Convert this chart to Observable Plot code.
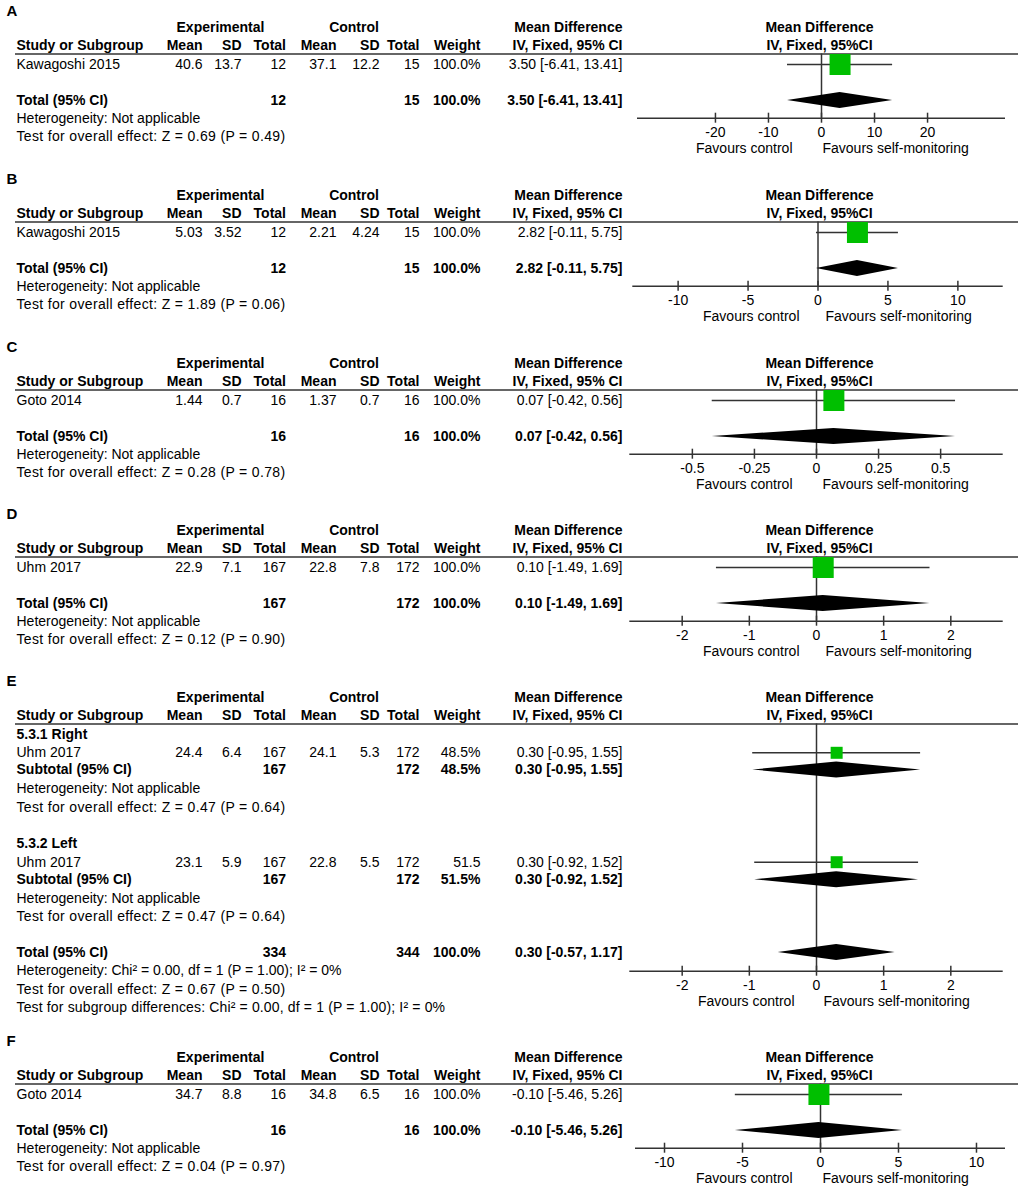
<!DOCTYPE html>
<html><head><meta charset="utf-8">
<script src="https://cdn.jsdelivr.net/npm/d3@7"></script>
<script src="https://cdn.jsdelivr.net/npm/@observablehq/plot@0.6"></script>
<style>
body{margin:0;background:#fff;}
#chart{width:1021px;}
#chart svg{display:block;}
</style></head><body><div id="chart"></div>
<script>
// ---------------- data ----------------
const panelLetters = ["A","B","C","D","E","F"];
const tickValues = [
  [-20,-10,0,10,20],
  [-10,-5,0,5,10],
  [-0.5,-0.25,0,0.25,0.5],
  [-2,-1,0,1,2],
  [-2,-1,0,1,2],
  [-10,-5,0,5,10]
];
const axisLimits = [34.7, 13.24, 0.752, 2.78, 2.78, 11.86];

const studyPanel  = ["A","B","C","D","E","E","F"];
const studyName   = ["Kawagoshi 2015","Kawagoshi 2015","Goto 2014","Uhm 2017","Uhm 2017","Uhm 2017","Goto 2014"];
const expMean     = ["40.6","5.03","1.44","22.9","24.4","23.1","34.7"];
const expSD       = ["13.7","3.52","0.7","7.1","6.4","5.9","8.8"];
const expTotal    = ["12","12","16","167","167","167","16"];
const ctlMean     = ["37.1","2.21","1.37","22.8","24.1","22.8","34.8"];
const ctlSD       = ["12.2","4.24","0.7","7.8","5.3","5.5","6.5"];
const ctlTotal    = ["15","15","16","172","172","172","16"];
const studyWeight = ["100.0%","100.0%","100.0%","100.0%","48.5%","51.5","100.0%"];
const studyMD     = [3.50, 2.82, 0.07, 0.10, 0.30, 0.30, -0.10];
const studyLo     = [-6.41, -0.11, -0.42, -1.49, -0.95, -0.92, -5.46];
const studyHi     = [13.41, 5.75, 0.56, 1.69, 1.55, 1.52, 5.26];

const pooledPanel    = ["A","B","C","D","E","E","E","F"];
const pooledLabel    = ["Total (95% CI)","Total (95% CI)","Total (95% CI)","Total (95% CI)","Subtotal (95% CI)","Subtotal (95% CI)","Total (95% CI)","Total (95% CI)"];
const pooledExpTotal = ["12","12","16","167","167","167","334","16"];
const pooledCtlTotal = ["15","15","16","172","172","172","344","16"];
const pooledWeight   = ["100.0%","100.0%","100.0%","100.0%","48.5%","51.5%","100.0%","100.0%"];
const pooledMD       = [3.50, 2.82, 0.07, 0.10, 0.30, 0.30, 0.30, -0.10];
const pooledLo       = [-6.41, -0.11, -0.42, -1.49, -0.95, -0.92, -0.57, -5.46];
const pooledHi       = [13.41, 5.75, 0.56, 1.69, 1.55, 1.52, 1.17, 5.26];
const pooledHet = [
  "Heterogeneity: Not applicable","Heterogeneity: Not applicable","Heterogeneity: Not applicable",
  "Heterogeneity: Not applicable","Heterogeneity: Not applicable","Heterogeneity: Not applicable",
  "Heterogeneity: Chi² = 0.00, df = 1 (P = 1.00); I² = 0%","Heterogeneity: Not applicable"
];
const pooledTest = [
  "Test for overall effect: Z = 0.69 (P = 0.49)","Test for overall effect: Z = 1.89 (P = 0.06)",
  "Test for overall effect: Z = 0.28 (P = 0.78)","Test for overall effect: Z = 0.12 (P = 0.90)",
  "Test for overall effect: Z = 0.47 (P = 0.64)","Test for overall effect: Z = 0.47 (P = 0.64)",
  "Test for overall effect: Z = 0.67 (P = 0.50)","Test for overall effect: Z = 0.04 (P = 0.97)"
];
const subgroupPanel = ["E","E"];
const subgroupLabel = ["5.3.1 Right","5.3.2 Left"];
const subgroupDiffPanel = ["E"];
const subgroupDiffText  = ["Test for subgroup differences: Chi² = 0.00, df = 1 (P = 1.00); I² = 0%"];
const headerGroups  = ["Experimental","Control"];
const headerColumns = ["Study or Subgroup","Mean","SD","Total","Mean","SD","Total","Weight"];
const effectTitle   = ["Mean Difference","IV, Fixed, 95% CI"];
const forestTitle   = ["Mean Difference","IV, Fixed, 95%CI"];
const favourLabels  = ["Favours control","Favours self-monitoring"];

// ---------------- layout (pixels) ----------------
const W = 1021, ML = 15, MR = 3;
const INK = "#333";
const GREEN = "#00BF00";
const FONT = "'Liberation Sans', Arial, Helvetica, sans-serif";
const col = {letter:6, study:16, expMean:202, expSD:241, expN:285.5, ctlMean:336, ctlSD:379, ctlN:419,
             weight:480, ci:622, exp:220, ctl:353.5, forest:819};
const SIMPLE = {letter:11, h1:27.5, h2:45, line:53.5, study:[64], subgroup:[], pooled:[100], het:[118],
                test:[136.5], extra:[], axis:117.7, tickLab:131.7, fav:148, box:21, half:8};
const layout = {
  A: {...SIMPLE, h:168, favC:792, favS:822},
  B: {...SIMPLE, h:168, favC:799, favS:825},
  C: {...SIMPLE, h:167, favC:792, favS:822},
  D: {...SIMPLE, h:167, favC:799, favS:825},
  E: {h:360, letter:11, h1:27.5, h2:45, line:53.5, subgroup:[64,173], study:[82.3,191.7],
      pooled:[99.5,209.3,282], het:[118.5,228,300.5], test:[136.7,246.5,319], extra:[337.5],
      axis:300.7, tickLab:315, fav:331.5, box:12, half:8, favC:794, favS:823},
  F: {...SIMPLE, h:160, favC:792, favS:822}
};
const axisPx = {A:[637,1005], B:[632.3,1002.7], C:[629.3,1002.7], D:[629.3,1002.7], E:[629.3,1002.7], F:[635,1005]};

const ciText = (m, lo, hi) => `${m.toFixed(2)} [${lo.toFixed(2)}, ${hi.toFixed(2)}]`;

function panelPlot(pi) {
  const P = panelLetters[pi];
  const L = layout[P];
  const lim = axisLimits[pi];
  const items = [];
  const add = (y, px, anchor, text, bold = false, size = 14) => items.push({y, px, anchor, text, bold, size});

  add(L.letter, col.letter, "start", P, true, 15);
  add(L.h1, col.exp, "middle", headerGroups[0], true);
  add(L.h1, col.ctl, "middle", headerGroups[1], true);
  add(L.h1, col.ci, "end", effectTitle[0], true);
  add(L.h1, col.forest, "middle", forestTitle[0], true);
  const hc = [["study","start"],["expMean","end"],["expSD","end"],["expN","end"],["ctlMean","end"],["ctlSD","end"],["ctlN","end"],["weight","end"]];
  headerColumns.forEach((t, k) => add(L.h2, col[hc[k][0]], hc[k][1], t, true));
  add(L.h2, col.ci, "end", effectTitle[1], true);
  add(L.h2, col.forest, "middle", forestTitle[1], true);

  const sIdx = studyPanel.map((p, i) => p === P ? i : -1).filter(i => i >= 0);
  const studies = sIdx.map((i, k) => ({y: L.study[k], md: studyMD[i], lo: studyLo[i], hi: studyHi[i]}));
  sIdx.forEach((i, k) => {
    const y = L.study[k];
    add(y, col.study, "start", studyName[i]);
    add(y, col.expMean, "end", expMean[i]);
    add(y, col.expSD, "end", expSD[i]);
    add(y, col.expN, "end", expTotal[i]);
    add(y, col.ctlMean, "end", ctlMean[i]);
    add(y, col.ctlSD, "end", ctlSD[i]);
    add(y, col.ctlN, "end", ctlTotal[i]);
    add(y, col.weight, "end", studyWeight[i]);
    add(y, col.ci, "end", ciText(studyMD[i], studyLo[i], studyHi[i]));
  });

  subgroupPanel.map((p, i) => p === P ? i : -1).filter(i => i >= 0)
    .forEach((i, k) => add(L.subgroup[k], col.study, "start", subgroupLabel[i], true));

  const pIdx = pooledPanel.map((p, i) => p === P ? i : -1).filter(i => i >= 0);
  const diamonds = [];
  pIdx.forEach((i, k) => {
    const y = L.pooled[k];
    add(y, col.study, "start", pooledLabel[i], true);
    add(y, col.expN, "end", pooledExpTotal[i], true);
    add(y, col.ctlN, "end", pooledCtlTotal[i], true);
    add(y, col.weight, "end", pooledWeight[i], true);
    add(y, col.ci, "end", ciText(pooledMD[i], pooledLo[i], pooledHi[i]), true);
    add(L.het[k], col.study, "start", pooledHet[i]);
    add(L.test[k], col.study, "start", pooledTest[i]);
    diamonds.push({id: k, x: pooledLo[i], y1: y, y2: y});
    diamonds.push({id: k, x: pooledMD[i], y1: y - L.half, y2: y + L.half});
    diamonds.push({id: k, x: pooledHi[i], y1: y, y2: y});
  });
  subgroupDiffPanel.map((p, i) => p === P ? i : -1).filter(i => i >= 0)
    .forEach((i, k) => add(L.extra[k], col.study, "start", subgroupDiffText[i]));

  add(L.fav, L.favC, "end", favourLabels[0]);
  add(L.fav, L.favS, "start", favourLabels[1]);

  const groups = d3.groups(items, d => `${d.px}|${d.anchor}|${d.bold}|${d.size}`);
  const textMarks = groups.map(([, arr]) => {
    const d0 = arr[0];
    return Plot.text(arr, {
      y: "y", text: "text", frameAnchor: "left", dx: d0.px - ML,
      textAnchor: d0.anchor, fontWeight: d0.bold ? "bold" : "normal",
      fontSize: d0.size, fill: "black"
    });
  });

  const ticks = tickValues[pi];
  const svg = Plot.plot({
    width: W, height: L.h,
    marginLeft: ML, marginRight: MR, marginTop: 0, marginBottom: 0,
    style: {fontFamily: FONT, fontSize: "14px", background: "white", color: "black", overflow: "visible"},
    x: {domain: [-lim, lim], range: axisPx[P], axis: null},
    y: {type: "identity", axis: null},
    marks: [
      Plot.ruleY([L.line], {y: d => d, stroke: INK, strokeWidth: 1.6}),
      Plot.ruleX([0], {x: d => d, y1: L.line, y2: L.axis, stroke: INK, strokeWidth: 1.5}),
      Plot.ruleY([L.axis], {y: d => d, x1: -lim, x2: lim, stroke: INK, strokeWidth: 1.6}),
      Plot.ruleX(ticks, {x: d => d, y1: L.axis - 5, y2: L.axis + 5, stroke: INK, strokeWidth: 1.5}),
      Plot.text(ticks, {x: d => d, y: L.tickLab, text: d => String(d), fontSize: 14, fill: "black"}),
      Plot.ruleY(studies, {y: "y", x1: "lo", x2: "hi", stroke: INK, strokeWidth: 1.5}),
      Plot.dot(studies, {x: "md", y: "y", symbol: "square", r: L.box / Math.sqrt(Math.PI), fill: GREEN, stroke: null}),
      Plot.area(diamonds, {x1: "x", y1: "y1", y2: "y2", z: "id", fill: "black", curve: "linear"}),
      ...textMarks
    ]
  });
  // match the slightly wider set of the "Test for ..." lines in the original
  d3.select(svg).selectAll("text")
    .filter(function () { return this.textContent.startsWith("Test for overall effect"); })
    .attr("letter-spacing", "0.34px");
  d3.select(svg).selectAll("text")
    .filter(function () { return this.textContent.startsWith("Test for subgroup"); })
    .attr("letter-spacing", "0.15px");
  return svg;
}

const root = document.getElementById("chart");
panelLetters.forEach((p, i) => root.appendChild(panelPlot(i)));
</script>
</body></html>
